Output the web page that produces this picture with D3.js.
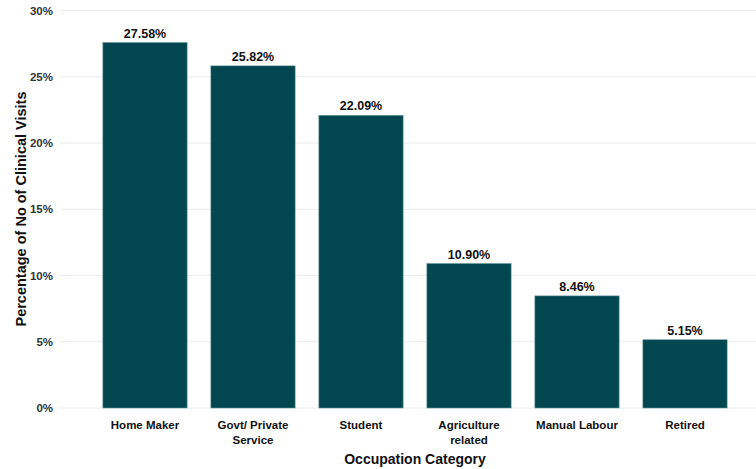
<!DOCTYPE html>
<html>
<head>
<meta charset="utf-8" />
<style>
  body { margin: 0; background: #fff; }
  text { font-family: "Liberation Sans", Arial, sans-serif; font-weight: bold; }
</style>
</head>
<body>
<div id="chart"></div>
<script src="https://cdnjs.cloudflare.com/ajax/libs/d3/7.8.5/d3.min.js"></script>
<script>
const categories = ["Home Maker", "Govt/ Private\nService", "Student", "Agriculture\nrelated", "Manual Labour", "Retired"];
const values = [27.58, 25.82, 22.09, 10.90, 8.46, 5.15];
const yTicks = [0, 5, 10, 15, 20, 25, 30];

const width = 756, height = 469;
const svg = d3.select("#chart").append("svg")
  .attr("width", width)
  .attr("height", height);

const x = d3.scaleBand().domain(categories).range([91, 739]).paddingInner(0.22).paddingOuter(0.11);
const y = d3.scaleLinear().domain([0, 30]).range([408, 10.5]);

// grid
svg.append("g").selectAll("line")
  .data(yTicks)
  .join("line")
  .attr("x1", 60).attr("x2", width)
  .attr("y1", d => y(d)).attr("y2", d => y(d))
  .attr("stroke", "#ebebeb")
  .attr("stroke-width", 1.1);

// y tick labels
svg.append("g").selectAll("text")
  .data(yTicks)
  .join("text")
  .attr("x", 53)
  .attr("y", d => y(d))
  .attr("dy", "0.35em")
  .attr("text-anchor", "end")
  .attr("font-size", 11.5)
  .attr("fill", "#333")
  .text(d => d + "%");

// bars
svg.append("g").selectAll("rect")
  .data(values)
  .join("rect")
  .attr("x", (d, i) => x(categories[i]))
  .attr("y", d => y(d))
  .attr("width", x.bandwidth())
  .attr("height", d => y(0) - y(d))
  .attr("fill", "#02464f")
  .attr("stroke", "#5f9498")
  .attr("stroke-width", 0.6);

// value labels
svg.append("g").selectAll("text")
  .data(values)
  .join("text")
  .attr("x", (d, i) => x(categories[i]) + x.bandwidth() / 2)
  .attr("y", d => y(d) - 5)
  .attr("text-anchor", "middle")
  .attr("font-size", 12.5)
  .attr("fill", "#111")
  .text(d => d.toFixed(2) + "%");

// category labels
const cat = svg.append("g").selectAll("text")
  .data(categories)
  .join("text")
  .attr("x", d => x(d) + x.bandwidth() / 2)
  .attr("y", 429)
  .attr("text-anchor", "middle")
  .attr("font-size", 11.5)
  .attr("fill", "#111");
cat.each(function(d) {
  const lines = d.split("\n");
  d3.select(this).selectAll("tspan")
    .data(lines)
    .join("tspan")
    .attr("x", x(d) + x.bandwidth() / 2)
    .attr("dy", (l, i) => i === 0 ? 0 : 15)
    .text(l => l);
});

// axis titles
svg.append("text")
  .attr("x", 415)
  .attr("y", 464)
  .attr("text-anchor", "middle")
  .attr("font-size", 14)
  .attr("fill", "#111")
  .text("Occupation Category");

svg.append("text")
  .attr("transform", "translate(26,209) rotate(-90)")
  .attr("text-anchor", "middle")
  .attr("font-size", 14.5)
  .attr("fill", "#111")
  .text("Percentage of No of Clinical Visits");
</script>
</body>
</html>
